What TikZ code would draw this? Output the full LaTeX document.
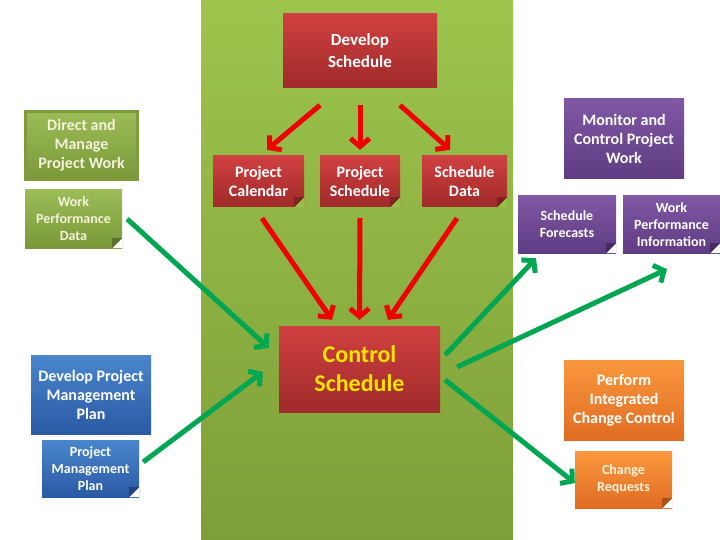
\documentclass[tikz,border=0pt]{standalone}
\usepackage{fontspec}
\setmainfont{Carlito}
\usetikzlibrary{arrows.meta}

% colours taken from the slide
\definecolor{bandtop}{HTML}{9DC54D}
\definecolor{bandbot}{HTML}{7E9E38}
\definecolor{redtop}{HTML}{D04040}
\definecolor{redbot}{HTML}{A02A2A}
\definecolor{olivetop}{HTML}{9CBC58}
\definecolor{olivebot}{HTML}{7A9838}
\definecolor{oliveline}{HTML}{7D9A3C}
\definecolor{bluetop}{HTML}{4A86CC}
\definecolor{bluebot}{HTML}{2A5AA5}
\definecolor{purptop}{HTML}{8058A4}
\definecolor{purpbot}{HTML}{5E3C82}
\definecolor{orgtop}{HTML}{FA983E}
\definecolor{orgbot}{HTML}{E06C22}
\definecolor{arrowred}{HTML}{F00000}
\definecolor{arrowgreen}{HTML}{00A651}
\definecolor{cream}{HTML}{F4F2DA}
\definecolor{csyellow}{HTML}{FFE400}

\tikzset{
  box/.style={inner sep=0pt, align=center, text=white, font=\bfseries\fontsize{16}{19}\selectfont},
  smallbox/.style={box, font=\bfseries\fontsize{14}{17}\selectfont},
  redbox/.style={top color=redtop, bottom color=redbot},
  olivebox/.style={top color=olivetop, bottom color=olivebot, text=cream},
  bluebox/.style={top color=bluetop, bottom color=bluebot},
  purpbox/.style={top color=purptop, bottom color=purpbot},
  orgbox/.style={top color=orgtop, bottom color=orgbot},
  redarrow/.style={draw=arrowred, line width=5pt, -{Straight Barb[length=8pt,width=19pt]}},
  greenarrow/.style={draw=arrowgreen, line width=5pt, -{Straight Barb[length=8pt,width=19pt]}}
}

% folded corner of a note: node, background, flap colour
\newcommand{\foldcorner}[3]{%
  \fill[#2] ([xshift=-10pt]#1.south east) -- (#1.south east) -- ([yshift=10pt]#1.south east) -- cycle;
  \fill[#3] ([xshift=-10pt]#1.south east) -- ([yshift=10pt]#1.south east) -- ([xshift=-10pt,yshift=10pt]#1.south east) -- cycle;
}

\begin{document}
\begin{tikzpicture}[x=1pt,y=-1pt]
    \useasboundingbox (0,0) rectangle (720,540);
    \fill[white] (0,0) rectangle (720,540);
    % green band behind the process
    \shade[top color=bandtop, bottom color=bandbot] (201,0) rectangle (513,540);

    % inputs/outputs of Control Schedule
    \node[box, redbox, minimum width=154pt, minimum height=74pt,
          font=\bfseries\fontsize{17}{22}\selectfont] (dev) at (360,51) {Develop\\Schedule};
    \node[box, redbox, minimum width=91pt, minimum height=51pt] (cal) at (258.5,181.5) {Project\\Calendar};
    \node[box, redbox, minimum width=80pt, minimum height=51pt] (psch) at (360,181.5) {Project\\Schedule};
    \node[box, redbox, minimum width=85pt, minimum height=51pt] (sd) at (464.5,181.5) {Schedule\\Data};
    \node[box, redbox, minimum width=161pt, minimum height=86pt, text=csyellow,
          font=\bfseries\fontsize{24}{29}\selectfont] (cs) at (359.5,369) {Control\\Schedule};

    % left side
    \node[box, olivebox, draw=oliveline, line width=3pt, minimum width=112pt, minimum height=68pt]
        (dm) at (81.5,145.5) {Direct and\\Manage\\Project Work};
    \node[smallbox, olivebox, minimum width=97pt, minimum height=58pt] (wpd) at (73.5,219)
        {Work\\Performance\\Data};
    \node[box, bluebox, minimum width=120pt, minimum height=79pt] (dpmp) at (91,394.5)
        {Develop Project\\Management\\Plan};
    \node[smallbox, bluebox, minimum width=97pt, minimum height=57pt] (pmp) at (90.5,468.5)
        {Project\\Management\\Plan};

    % right side
    \node[box, purpbox, minimum width=120pt, minimum height=80pt] (mc) at (624,139)
        {Monitor and\\Control Project\\Work};
    \node[smallbox, purpbox, minimum width=98pt, minimum height=57pt] (sf) at (567,224.5)
        {Schedule\\Forecasts};
    \node[smallbox, purpbox, minimum width=97pt, minimum height=57pt] (wpi) at (671.5,224.5)
        {Work\\Performance\\Information};
    \node[box, orgbox, minimum width=120pt, minimum height=80pt] (pic) at (624,400)
        {Perform\\Integrated\\Change Control};
    \node[smallbox, orgbox, text=cream, minimum width=97pt, minimum height=57pt] (cr) at (623.5,479.5)
        {Change\\Requests};

    % folded corners
    \foldcorner{cal}{bandtop!85!bandbot}{redbot!80!black}
    \foldcorner{psch}{bandtop!85!bandbot}{redbot!80!black}
    \foldcorner{sd}{bandtop!85!bandbot}{redbot!80!black}
    \foldcorner{wpd}{white}{olivebot!75!black}
    \foldcorner{pmp}{white}{bluebot!75!black}
    \foldcorner{sf}{white}{purpbot!75!black}
    \foldcorner{wpi}{white}{purpbot!75!black}
    \foldcorner{cr}{white}{orgbot!75!black}

    % red arrows
    \draw[redarrow] ([xshift=-40pt,yshift=-17pt]dev.south) -- ([xshift=8.5pt,yshift=6pt]cal.north);
    \draw[redarrow] ([yshift=-17pt]dev.south) -- ([yshift=6pt]psch.north);
    \draw[redarrow] ([xshift=40pt,yshift=-17pt]dev.south) -- ([xshift=-14.5pt,yshift=6pt]sd.north);
    \draw[redarrow] ([xshift=3.5pt,yshift=-11pt]cal.south) -- ([xshift=-27.5pt,yshift=6pt]cs.north);
    \draw[redarrow] ([yshift=-11pt]psch.south) -- ([yshift=6pt]cs.north);
    \draw[redarrow] ([xshift=-7.5pt,yshift=-11pt]sd.south) -- ([xshift=28.5pt,yshift=6pt]cs.north);

    % green arrows
    \draw[greenarrow] ([xshift=5pt]wpd.east) -- ([xshift=-10pt,yshift=21pt]cs.west);
    \draw[greenarrow] ([xshift=4pt,yshift=6.5pt]pmp.east) -- ([xshift=-16pt,yshift=-3pt]cs.west);
    \draw[greenarrow] ([xshift=5pt,yshift=14pt]cs.east) -- ([xshift=-31pt,yshift=-5pt]sf.south);
    \draw[greenarrow] ([xshift=17pt,yshift=2pt]cs.east) -- ([xshift=-4.5pt,yshift=-16pt]wpi.south);
    \draw[greenarrow] ([xshift=5pt,yshift=-11pt]cs.east) -- ([yshift=-3.5pt]cr.west);
\end{tikzpicture}
\end{document}
